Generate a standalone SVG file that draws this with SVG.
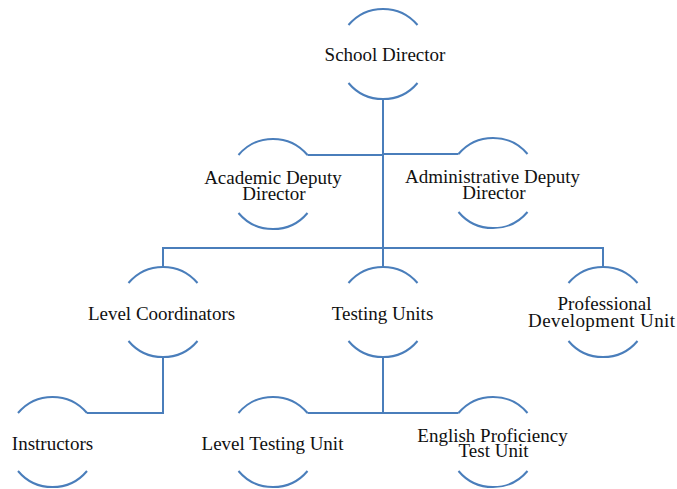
<svg xmlns="http://www.w3.org/2000/svg" width="677" height="489" viewBox="0 0 677 489">
  <style>
    .arc { fill: none; stroke: #4A7EBB; stroke-width: 2; }
    .link { fill: none; stroke: #4A7EBB; stroke-width: 2; }
    text { font-family: "Liberation Serif", "Times New Roman", serif; font-size: 19px; fill: #111; text-anchor: middle; }
  </style>
  <defs>
    <!-- open circle: top and bottom arcs of r=45, each spanning ±50° -->
    <g id="ring">
      <path class="arc" d="M -34.5 -29 A 45 45 0 0 1 34.5 -29"/>
      <path class="arc" d="M -34.5 29 A 45 45 0 0 0 34.5 29"/>
    </g>
  </defs>
  <rect width="677" height="489" fill="#ffffff"/>

  <g id="connectors">
    <path class="link" d="M 383 99 V 248"/>
    <path class="link" d="M 307.5 155 H 383"/>
    <path class="link" d="M 383 154 H 458.5"/>
    <path class="link" d="M 163 267 V 248 H 603 V 267"/>
    <path class="link" d="M 383 248 V 267"/>
    <path class="link" d="M 163 357 V 413 H 87"/>
    <path class="link" d="M 383 357 V 413"/>
    <path class="link" d="M 307.5 413 H 458.5"/>
  </g>

  <g id="school-director">
    <use href="#ring" x="383" y="54"/>
    <text x="385" y="61">School Director</text>
  </g>
  <g id="academic-deputy-director">
    <use href="#ring" x="273" y="184"/>
    <text x="273" y="183.5">Academic Deputy</text>
    <text x="274" y="200">Director</text>
  </g>
  <g id="administrative-deputy-director">
    <use href="#ring" x="493" y="183"/>
    <text x="492.5" y="182.7" textLength="175" lengthAdjust="spacing">Administrative Deputy</text>
    <text x="494" y="198.5">Director</text>
  </g>
  <g id="level-coordinators">
    <use href="#ring" x="163" y="312"/>
    <text x="161.5" y="320">Level Coordinators</text>
  </g>
  <g id="testing-units">
    <use href="#ring" x="383" y="312"/>
    <text x="382.5" y="320">Testing Units</text>
  </g>
  <g id="professional-development-unit">
    <use href="#ring" x="603" y="312"/>
    <text x="604.5" y="310">Professional</text>
    <text x="601.5" y="327" textLength="147" lengthAdjust="spacing">Development Unit</text>
  </g>
  <g id="instructors">
    <use href="#ring" x="52.5" y="442"/>
    <text x="52.5" y="450">Instructors</text>
  </g>
  <g id="level-testing-unit">
    <use href="#ring" x="273" y="442"/>
    <text x="272.5" y="450">Level Testing Unit</text>
  </g>
  <g id="english-proficiency-test-unit">
    <use href="#ring" x="493" y="442"/>
    <text x="492.5" y="441.7">English Proficiency</text>
    <text x="493.5" y="457">Test Unit</text>
  </g>
</svg>
